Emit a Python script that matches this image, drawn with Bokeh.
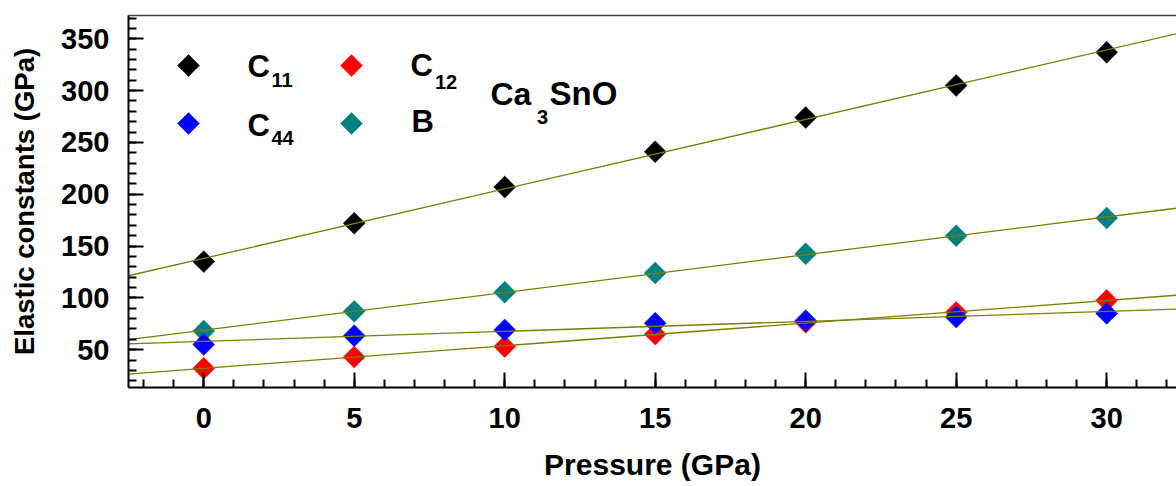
import numpy as np
from bokeh.plotting import figure
from bokeh.models import (LinearAxis, SingleIntervalTicker, FixedTicker, Label, Range1d)
from bokeh.embed import file_html
from bokeh.resources import INLINE

# Elastic constants of Ca3SnO versus pressure
pressure = [0, 5, 10, 15, 20, 25, 30]
c11 = [135, 172, 207, 241, 274, 305, 337]
c12 = [32, 43, 53, 65, 76.5, 86, 97.5]
c44 = [55, 63.5, 69, 75.5, 78, 81.5, 85]
bulk = [68, 87, 105.5, 124, 142.5, 160, 177]

x_ticks_interval = 5
y_ticks_interval = 50

FONT = "Liberation Sans"
FIT_COLOR = "#7d7d00"

series = [
    ("C11", c11, "#000000"),
    ("C12", c12, "#ff0000"),
    ("B", bulk, "#008080"),
    ("C44", c44, "#0000ff"),
]

x0, x1 = -2.5, 32.32
y0, y1 = 13.5, 372.5

p = figure(width=1176, height=486, output_backend="svg", toolbar_location=None,
           x_range=Range1d(x0, x1), y_range=Range1d(y0, y1),
           x_axis_type=None, y_axis_type=None,
           min_border_left=128, min_border_right=0,
           min_border_top=15, min_border_bottom=99)
p.outline_line_color = None
p.background_fill_color = "white"
p.border_fill_color = "white"
p.xgrid.visible = False
p.ygrid.visible = False


def style_axis(ax, label, title_size):
    ax.axis_label = label
    ax.axis_label_text_font = FONT
    ax.axis_label_text_font_style = "bold"
    ax.axis_label_text_font_size = title_size
    ax.axis_label_text_color = "black"
    ax.major_label_text_font = FONT
    ax.major_label_text_font_style = "bold"
    ax.major_label_text_font_size = "29px"
    ax.major_label_text_color = "black"
    ax.axis_line_width = 2
    ax.axis_line_color = "black"
    ax.major_tick_line_width = 2
    ax.minor_tick_line_width = 2
    ax.major_tick_in = 15
    ax.major_tick_out = 0
    ax.minor_tick_in = 8
    ax.minor_tick_out = 0


xaxis = LinearAxis(ticker=SingleIntervalTicker(interval=x_ticks_interval, num_minor_ticks=5))
style_axis(xaxis, "Pressure (GPa)", "30px")
xaxis.major_label_standoff = 20
xaxis.axis_label_standoff = 17
p.add_layout(xaxis, "below")

yaxis = LinearAxis(ticker=SingleIntervalTicker(interval=y_ticks_interval, num_minor_ticks=5))
style_axis(yaxis, "Elastic constants (GPa)", "27.5px")
yaxis.major_label_standoff = 19
yaxis.axis_label_standoff = 18
p.add_layout(yaxis, "left")

# plain frame line along the top edge
top = LinearAxis(ticker=FixedTicker(ticks=[]))
top.major_label_standoff = 0
top.major_tick_in = 0
top.major_tick_out = 0
top.minor_tick_in = 0
top.minor_tick_out = 0
top.axis_line_color = "#404040"
top.axis_line_width = 1.5
p.add_layout(top, "above")

MARKER_SIZE = 15.5

# data points
for name, vals, color in series:
    p.scatter(pressure, vals, marker="square", size=MARKER_SIZE, angle=np.pi / 4,
              fill_color=color, line_color=color, line_width=0.5)

# linear fits through each series
xf = np.array([x0, x1])
for name, vals, color in series:
    k, b = np.polyfit(pressure, vals, 1)
    p.line(xf, k * xf + b, line_color=FIT_COLOR, line_width=1.3)

# legend markers
leg_x = [-0.507, 4.909, -0.507, 4.909]
leg_y = [324.25, 324.25, 268.28, 268.28]
leg_colors = ["#000000", "#ff0000", "#0000ff", "#008080"]
p.scatter(leg_x, leg_y, marker="square", size=MARKER_SIZE, angle=np.pi / 4,
          fill_color=leg_colors, line_color=leg_colors, line_width=0.5)


def txt(x, y, s, size):
    p.add_layout(Label(x=x, y=y + 11.6, text=s, text_font=FONT, text_font_style="bold",
                       text_font_size=size, text_color="black",
                       text_align="left", text_baseline="alphabetic"))


BIG = "31px"
SUB = "20px"
txt(1.454, 311.7, "C", BIG)
txt(2.25, 298.2, "11", SUB)
txt(6.869, 312.7, "C", BIG)
txt(7.68, 297.2, "12", SUB)
txt(1.454, 254.8, "C", BIG)
txt(2.25, 242.2, "44", SUB)
txt(6.902, 258.6, "B", BIG)

txt(9.527, 285.6, "Ca", "32px")
txt(11.07, 263.4, "3", SUB)
txt(11.49, 285.6, "SnO", "33px")

open("out.html", "w").write(file_html(p, INLINE))
